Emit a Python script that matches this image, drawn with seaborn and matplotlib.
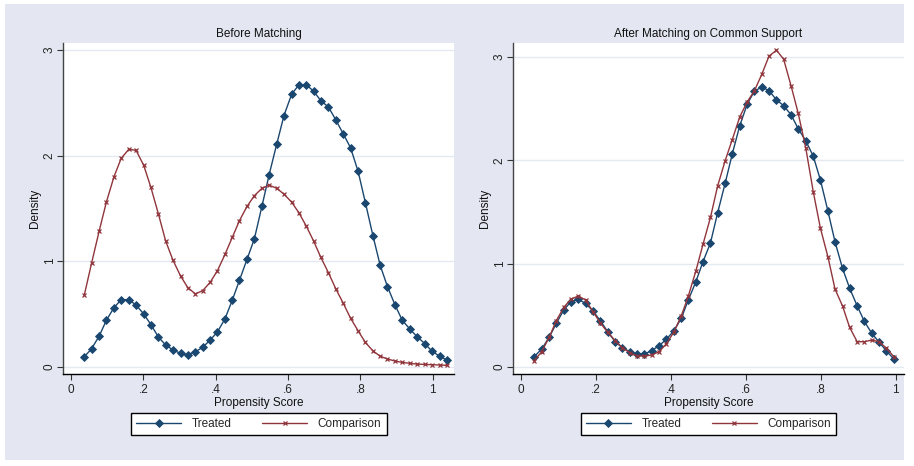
import matplotlib
matplotlib.use('Agg')
import matplotlib.pyplot as plt
from matplotlib.patches import Rectangle
import seaborn as sns

# kernel density estimates
score_before = [
    0.037, 0.057, 0.078, 0.098, 0.119, 0.139, 0.160, 0.180, 0.201, 0.221,
    0.242, 0.262, 0.282, 0.303, 0.323, 0.344, 0.364, 0.385, 0.405, 0.426,
    0.446, 0.466, 0.487, 0.507, 0.528, 0.548, 0.569, 0.589, 0.610, 0.630,
    0.651, 0.671, 0.691, 0.712, 0.732, 0.753, 0.773, 0.794, 0.814, 0.835,
    0.855, 0.875, 0.896, 0.916, 0.937, 0.957, 0.978, 0.998, 1.019, 1.039,
]
treated_before = [
    0.095, 0.17, 0.29, 0.44, 0.56, 0.635, 0.635, 0.585, 0.50, 0.40,
    0.28, 0.205, 0.16, 0.126, 0.114, 0.142, 0.183, 0.253, 0.33, 0.455,
    0.63, 0.82, 1.02, 1.21, 1.52, 1.82, 2.11, 2.38, 2.58, 2.67,
    2.67, 2.61, 2.52, 2.46, 2.34, 2.205, 2.075, 1.85, 1.555, 1.24,
    0.96, 0.76, 0.585, 0.44, 0.357, 0.284, 0.22, 0.148, 0.10, 0.063,
]
comparison_before = [
    0.68, 0.98, 1.285, 1.56, 1.80, 1.975, 2.06, 2.05, 1.91, 1.70,
    1.445, 1.19, 1.01, 0.86, 0.75, 0.69, 0.72, 0.80, 0.91, 1.065,
    1.225, 1.385, 1.52, 1.62, 1.69, 1.72, 1.69, 1.635, 1.56, 1.46,
    1.33, 1.19, 1.035, 0.89, 0.74, 0.60, 0.46, 0.34, 0.23, 0.15,
    0.10, 0.073, 0.054, 0.041, 0.032, 0.025, 0.022, 0.019, 0.016, 0.013,
]

score_after = [
    0.036, 0.056, 0.076, 0.095, 0.115, 0.134, 0.154, 0.173, 0.193, 0.212,
    0.232, 0.252, 0.271, 0.291, 0.310, 0.330, 0.349, 0.369, 0.388, 0.408,
    0.428, 0.447, 0.467, 0.486, 0.506, 0.525, 0.545, 0.564, 0.584, 0.604,
    0.623, 0.643, 0.662, 0.682, 0.701, 0.721, 0.740, 0.760, 0.780, 0.799,
    0.819, 0.838, 0.858, 0.877, 0.897, 0.916, 0.936, 0.956, 0.975, 0.995,
]
treated_after = [
    0.097, 0.171, 0.284, 0.42, 0.55, 0.63, 0.652, 0.613, 0.54, 0.446,
    0.34, 0.242, 0.184, 0.145, 0.123, 0.123, 0.155, 0.203, 0.265, 0.345,
    0.468, 0.646, 0.823, 1.017, 1.20, 1.49, 1.776, 2.06, 2.335, 2.545,
    2.67, 2.71, 2.675, 2.585, 2.53, 2.44, 2.305, 2.19, 2.04, 1.81,
    1.51, 1.21, 0.953, 0.76, 0.59, 0.44, 0.323, 0.236, 0.152, 0.074,
]
comparison_after = [
    0.058, 0.145, 0.284, 0.446, 0.575, 0.655, 0.685, 0.646, 0.533, 0.426,
    0.333, 0.252, 0.184, 0.136, 0.103, 0.103, 0.113, 0.145, 0.22, 0.333,
    0.49, 0.685, 0.927, 1.185, 1.447, 1.75, 1.995, 2.20, 2.42, 2.567,
    2.673, 2.835, 3.01, 3.067, 2.98, 2.72, 2.454, 2.12, 1.695, 1.343,
    1.066, 0.752, 0.588, 0.381, 0.242, 0.242, 0.258, 0.242, 0.178, 0.097,
]

panel_titles = ['Before Matching', 'After Matching on Common Support']
series_labels = ['Treated', 'Comparison']
x_ticks = [0, 0.2, 0.4, 0.6, 0.8, 1]
x_tick_labels = ['0', '.2', '.4', '.6', '.8', '1']
y_ticks = [0, 1, 2, 3]

NAVY = '#1a476f'
MAROON = '#90353b'
BACKGROUND = '#e4e7f1'
GRID = '#e3e8f1'

sns.set_theme(style='white')
plt.rcParams['font.family'] = ['Liberation Sans', 'DejaVu Sans']

fig = plt.figure(figsize=(9.14, 4.66), dpi=100, facecolor='white')
fig.patches.append(Rectangle(
    (5 / 914, 6 / 466), 899 / 914, 456 / 466, transform=fig.transFigure,
    facecolor=BACKGROUND, edgecolor='none', zorder=-10
))

panels = [
    dict(rect=[0.0693, 0.1974, 0.4278, 0.711], x=score_before,
         treated=treated_before, comparison=comparison_before,
         xlim=(-0.021, 1.06), ylim=(-0.069, 3.07)),
    dict(rect=[0.5616, 0.1974, 0.4271, 0.711], x=score_after,
         treated=treated_after, comparison=comparison_after,
         xlim=(-0.0196, 1.021), ylim=(-0.071, 3.14)),
]

for title, p in zip(panel_titles, panels):
    ax = fig.add_axes(p['rect'])
    ax.set_facecolor('white')
    sns.lineplot(x=p['x'], y=p['treated'], ax=ax, color=NAVY, lw=1,
                 marker='D', markersize=4, markeredgecolor=NAVY,
                 markeredgewidth=0.6, label=series_labels[0])
    sns.lineplot(x=p['x'], y=p['comparison'], ax=ax, color=MAROON, lw=1,
                 marker='x', markersize=3.5, markeredgecolor=MAROON,
                 markeredgewidth=0.9, label=series_labels[1])
    ax.set_xlim(*p['xlim'])
    ax.set_ylim(*p['ylim'])
    ax.set_xticks(x_ticks)
    ax.set_xticklabels(x_tick_labels)
    ax.set_yticks(y_ticks)
    ax.yaxis.grid(True, color=GRID, lw=1)
    ax.xaxis.grid(False)
    ax.set_axisbelow(True)
    for side in ['top', 'right']:
        ax.spines[side].set_visible(False)
    ax.spines['left'].set_color('#444444')
    ax.spines['bottom'].set_color('black')
    ax.spines['left'].set_linewidth(1)
    ax.spines['bottom'].set_linewidth(1)
    ax.tick_params(axis='both', which='major', length=4, width=0.8,
                   color='#333333', labelsize=8.5, left=True,
                   bottom=True, labelcolor='#222222')
    ax.tick_params(axis='x', pad=3)
    ax.tick_params(axis='y', pad=1.5)
    for lab in ax.get_yticklabels():
        lab.set_rotation(90)
        lab.set_va('center')
    ax.set_title(title, fontsize=8.5, pad=4, color='#111111')
    ax.set_xlabel('Propensity Score', fontsize=8.5, labelpad=1,
                  color='#111111')
    ax.set_ylabel('Density', fontsize=8.5, labelpad=2, color='#111111')
    leg = ax.legend(loc='center', bbox_to_anchor=(0.5, -0.151), ncol=2,
                    frameon=True, fancybox=False, edgecolor='black',
                    framealpha=1, fontsize=8.5, handlelength=3.8,
                    columnspacing=2.6, handletextpad=0.9, borderpad=0.45,
                    numpoints=1)
    leg.get_frame().set_linewidth(1)

fig.savefig('out.png', dpi=100, facecolor='white')
